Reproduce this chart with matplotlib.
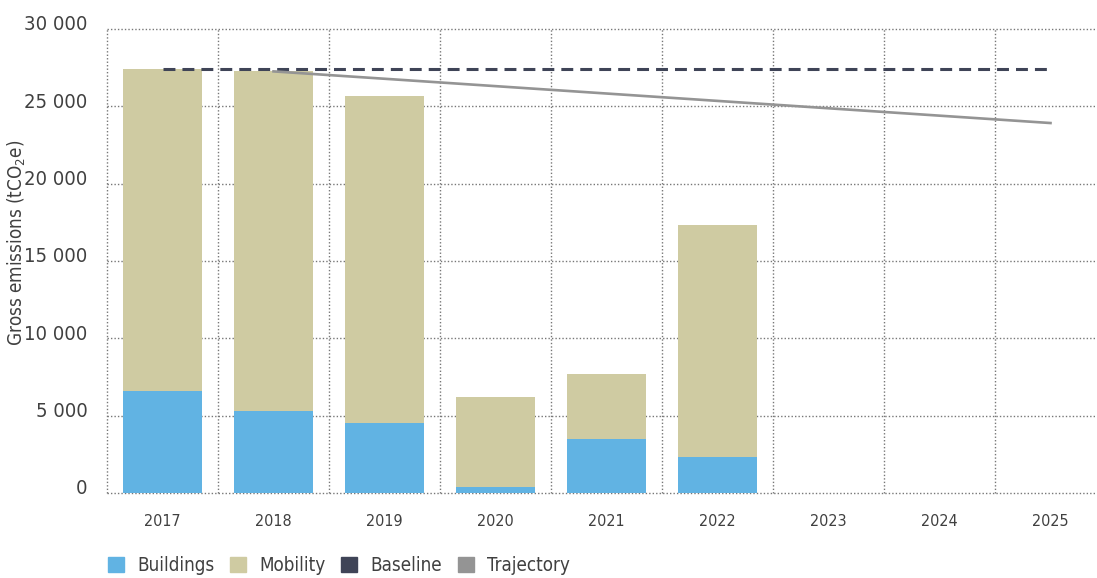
import numpy as np
import matplotlib
matplotlib.use('Agg')
import matplotlib.pyplot as plt
from matplotlib.patches import Patch
from matplotlib import font_manager
import matplotlib.transforms as mtransforms

# pick a narrow font: the reference uses a condensed sans
fonts = font_manager.fontManager.ttflist
names = {f.name for f in fonts}
if 'Liberation Sans Narrow' in names:
    plt.rcParams['font.family'] = ['Liberation Sans Narrow', 'DejaVu Sans']
    fam = 'Liberation Sans Narrow'
elif any(f.name == 'DejaVu Sans' and f.stretch == 'condensed' for f in fonts):
    plt.rcParams['font.family'] = ['DejaVu Sans']
    plt.rcParams['font.stretch'] = 'condensed'
    fam = 'DejaVu Sans:stretch=condensed'
else:
    plt.rcParams['font.family'] = ['Roboto', 'DejaVu Sans']
    fam = 'Roboto'
plt.rcParams['mathtext.fontset'] = 'custom'
plt.rcParams['mathtext.rm'] = fam
plt.rcParams['mathtext.it'] = fam

years = ['2017', '2018', '2019', '2020', '2021', '2022', '2023', '2024', '2025']
bar_years = ['2017', '2018', '2019', '2020', '2021', '2022']
buildings = [6590, 5300, 4520, 390, 3490, 2330]
mobility = [20810, 21960, 21130, 5810, 4200, 14980]
baseline_years = ['2017', '2025']
baseline = [27400, 27400]
trajectory_years = ['2018', '2025']
trajectory = [27260, 23920]
yticks = [0, 5000, 10000, 15000, 20000, 25000, 30000]
ytick_labels = ['0', '5 000', '10 000', '15 000', '20 000', '25 000', '30 000']

c_build = '#61b3e3'
c_mob = '#cfcba2'
c_base = '#3f4457'
c_traj = '#949494'
c_text = '#404040'

fig = plt.figure(figsize=(10.97, 5.78), dpi=100)
ax = fig.add_axes([107/1097, 1-493/578, 999/1097, 464/578])

pos = {y: i for i, y in enumerate(years)}
xb = np.array([pos[y] for y in bar_years])
ax.bar(xb, buildings, width=0.72, color=c_build, zorder=3)
ax.bar(xb, mobility, width=0.72, bottom=buildings, color=c_mob, zorder=3)
ax.plot([pos[y] for y in baseline_years], baseline, color=c_base, lw=2.2,
        dashes=(3.9, 2.3), dash_capstyle='butt', zorder=4)
ax.plot([pos[y] for y in trajectory_years], trajectory, color=c_traj, lw=1.9, zorder=4)

ax.set_xlim(-0.5, len(years)-0.5)
ax.set_ylim(0, 30000)
for s in ax.spines.values():
    s.set_visible(False)

ax.set_xticks(range(len(years)))
ax.set_xticklabels(years, fontsize=11.5, color=c_text)
ax.set_xticks(np.arange(-0.5, len(years)), minor=True)
ax.set_yticks(yticks)
ax.set_yticklabels(ytick_labels, fontsize=14.5, color=c_text)
ax.tick_params(axis='x', which='both', length=0, pad=15)
ax.tick_params(axis='y', length=0, pad=14)
off = mtransforms.ScaledTranslation(0, 6/100, fig.dpi_scale_trans)
for lab in ax.get_yticklabels():
    lab.set_transform(lab.get_transform() + off)

ax.grid(True, axis='y', which='major', linestyle=(0, (1, 1.5)), color='#777777', lw=1, zorder=0)
ax.grid(True, axis='x', which='minor', linestyle=(0, (1, 1.5)), color='#777777', lw=1, zorder=0)
ax.grid(False, axis='x', which='major')
for ln in ax.get_ygridlines():
    ln.set_clip_on(False)
for t in ax.xaxis.get_minor_ticks():
    t.gridline.set_clip_on(False)

ax.set_ylabel('Gross emissions (tCO$_2$e)', fontsize=13.5, color=c_text)
ax.yaxis.set_label_coords(-0.079, 0.54)

handles = [Patch(color=c_build), Patch(color=c_mob), Patch(color=c_base), Patch(color=c_traj)]
fig.legend(handles, ['Buildings', 'Mobility', 'Baseline', 'Trajectory'],
           loc='lower left', bbox_to_anchor=(91/1097, -0.024), ncol=4, frameon=False,
           fontsize=13.5, handlelength=0.85, handleheight=0.85, handletextpad=0.7,
           columnspacing=0.85, labelcolor=c_text)

fig.savefig('out.png', dpi=100)
